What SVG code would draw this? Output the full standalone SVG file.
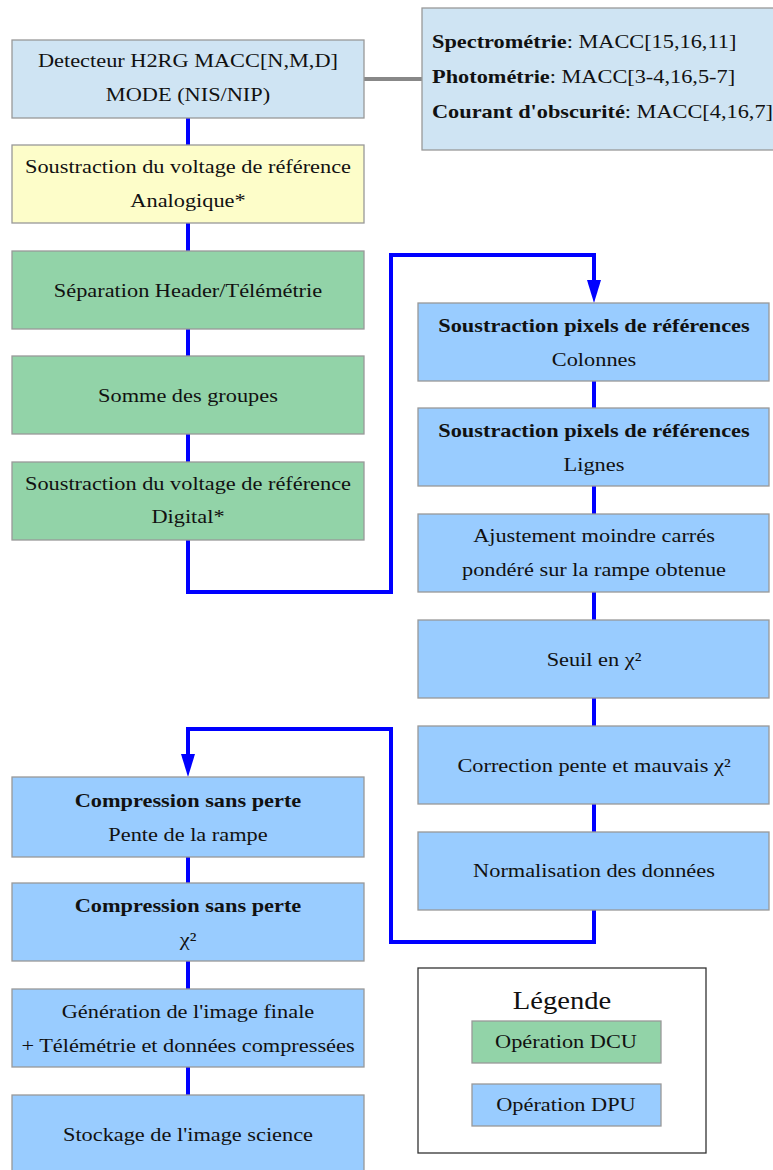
<svg xmlns="http://www.w3.org/2000/svg" width="773" height="1170" viewBox="0 0 773 1170">
<style>
text{font-family:"Liberation Serif","DejaVu Serif",serif;font-size:19.5px;fill:#111;text-anchor:middle;transform-box:fill-box;transform-origin:center;transform:scaleX(1.145)}
.b{font-weight:bold}
.l{text-anchor:start;transform-origin:left center}
.lg{font-size:26px;transform:scaleX(1.1)}
.box{stroke:#999;stroke-width:1.3}
.top{fill:#cfe4f3}
.yel{fill:#fdfdc9}
.grn{fill:#92d3a8}
.blu{fill:#99ccff}
.c{fill:none;stroke:#0000ff;stroke-width:4}
</style>
<g id="connectors">
<line x1="364" y1="79" x2="422" y2="79" stroke="#888" stroke-width="4"/>
<line class="c" x1="188" y1="118" x2="188" y2="145"/>
<line class="c" x1="188" y1="223" x2="188" y2="251"/>
<line class="c" x1="188" y1="329" x2="188" y2="356"/>
<line class="c" x1="188" y1="434" x2="188" y2="462"/>
<path class="c" d="M188,540 V592 H391 V255 H594 V282"/>
<path d="M587,280 L601,280 L594,303 Z" fill="#0000ff"/>
<line class="c" x1="594" y1="381" x2="594" y2="408"/>
<line class="c" x1="594" y1="486" x2="594" y2="514"/>
<line class="c" x1="594" y1="592" x2="594" y2="620"/>
<line class="c" x1="594" y1="698" x2="594" y2="726"/>
<line class="c" x1="594" y1="804" x2="594" y2="832"/>
<path class="c" d="M594,910 V942 H391 V729 H188 V756"/>
<path d="M181,754 L195,754 L188,777 Z" fill="#0000ff"/>
<line class="c" x1="188" y1="857" x2="188" y2="883"/>
<line class="c" x1="188" y1="961" x2="188" y2="989"/>
<line class="c" x1="188" y1="1067" x2="188" y2="1095"/>
</g>
<g id="detecteur">
<rect class="box top" x="12" y="40" width="352" height="78"/>
<text x="188" y="67">Detecteur H2RG MACC[N,M,D]</text>
<text x="188" y="101">MODE (NIS/NIP)</text>
</g>
<g id="modes">
<rect class="box top" x="422" y="8" width="360" height="142"/>
<text class="l" x="432" y="48"><tspan class="b">Spectrométrie</tspan>: MACC[15,16,11]</text>
<text class="l" x="432" y="83"><tspan class="b">Photométrie</tspan>: MACC[3-4,16,5-7]</text>
<text class="l" x="432" y="118"><tspan class="b">Courant d'obscurité</tspan>: MACC[4,16,7]</text>
</g>
<g id="analogique">
<rect class="box yel" x="12" y="145" width="352" height="78"/>
<text x="188" y="173">Soustraction du voltage de référence</text>
<text x="188" y="207">Analogique*</text>
</g>
<g id="separation">
<rect class="box grn" x="12" y="251" width="352" height="78"/>
<text x="188" y="297">Séparation Header/Télémétrie</text>
</g>
<g id="somme">
<rect class="box grn" x="12" y="356" width="352" height="78"/>
<text x="188" y="402">Somme des groupes</text>
</g>
<g id="digital">
<rect class="box grn" x="12" y="462" width="352" height="78"/>
<text x="188" y="490">Soustraction du voltage de référence</text>
<text x="188" y="523">Digital*</text>
</g>
<g id="colonnes">
<rect class="box blu" x="418" y="303" width="351" height="78"/>
<text class="b" x="594" y="332">Soustraction pixels de références</text>
<text x="594" y="366">Colonnes</text>
</g>
<g id="lignes">
<rect class="box blu" x="418" y="408" width="351" height="78"/>
<text class="b" x="594" y="437">Soustraction pixels de références</text>
<text x="594" y="471">Lignes</text>
</g>
<g id="ajustement">
<rect class="box blu" x="418" y="514" width="351" height="78"/>
<text x="594" y="542">Ajustement moindre carrés</text>
<text x="594" y="576">pondéré sur la rampe obtenue</text>
</g>
<g id="seuil">
<rect class="box blu" x="418" y="620" width="351" height="78"/>
<text x="594" y="666">Seuil en χ²</text>
</g>
<g id="correction">
<rect class="box blu" x="418" y="726" width="351" height="78"/>
<text x="594" y="772">Correction pente et mauvais χ²</text>
</g>
<g id="normalisation">
<rect class="box blu" x="418" y="832" width="351" height="78"/>
<text x="594" y="877">Normalisation des données</text>
</g>
<g id="compression1">
<rect class="box blu" x="12" y="777" width="352" height="80"/>
<text class="b" x="188" y="807">Compression sans perte</text>
<text x="188" y="841">Pente de la rampe</text>
</g>
<g id="compression2">
<rect class="box blu" x="12" y="883" width="352" height="78"/>
<text class="b" x="188" y="912">Compression sans perte</text>
<text x="188" y="946">χ²</text>
</g>
<g id="generation">
<rect class="box blu" x="12" y="989" width="352" height="78"/>
<text x="188" y="1018">Génération de l'image finale</text>
<text x="188" y="1052">+ Télémétrie et données compressées</text>
</g>
<g id="stockage">
<rect class="box blu" x="12" y="1095" width="352" height="80"/>
<text x="188" y="1141">Stockage de l'image science</text>
</g>
<g id="legende">
<rect x="418" y="968" width="288" height="185" fill="#fff" stroke="#333" stroke-width="1.3"/>
<text class="lg" x="562" y="1009">Légende</text>
<rect class="box grn" x="472" y="1021" width="189" height="42"/>
<text x="566" y="1048">Opération DCU</text>
<rect class="box blu" x="472" y="1084" width="189" height="42"/>
<text x="566" y="1111">Opération DPU</text>
</g>
</svg>
